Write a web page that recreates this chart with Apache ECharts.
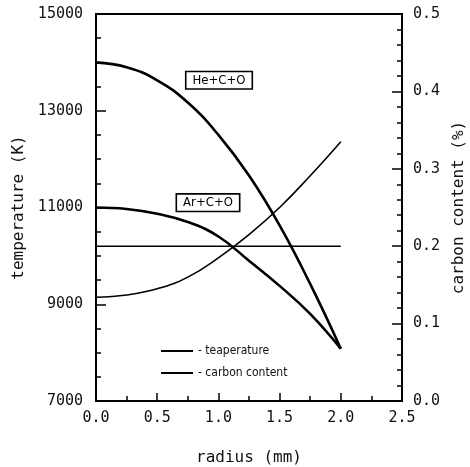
<!DOCTYPE html>
<html>
<head>
<meta charset="utf-8">
<script src="https://cdn.jsdelivr.net/npm/echarts@6/dist/echarts.min.js"></script>
<style>
  html, body { margin: 0; padding: 0; background: #fff; }
  #chart { width: 470px; height: 467px; }
</style>
</head>
<body>
<div id="chart"></div>
<script>
// Radial sample positions (mm)
const radius = [0, 0.25, 0.5, 0.75, 1.0, 1.25, 1.5, 1.75, 2.0];

// Temperature profiles (K)
const tempHe = [14000, 13900, 13630, 13170, 12500, 11660, 10630, 9420, 8080];
const tempAr = [11000, 10970, 10870, 10700, 10400, 9900, 9380, 8800, 8080];

// Carbon content profiles (%)
const carbonFlat = [0.2, 0.2, 0.2, 0.2, 0.2, 0.2, 0.2, 0.2, 0.2];
const carbonRise = [0.134, 0.137, 0.145, 0.160, 0.185, 0.215, 0.250, 0.291, 0.335];

// Curve tags: [label, radius, temperature]
const tagHe = ['He+C+O', 1.005, 13630];
const tagAr = ['Ar+C+O', 0.915, 11100];

const xTicks = { min: 0, max: 2.5, step: 0.5 };
const tTicks = { min: 7000, max: 15000, step: 2000 };
const cTicks = { min: 0, max: 0.5, step: 0.1 };

const pairs = (xs, ys) => xs.map((x, i) => [x, ys[i]]);

const tickFont = { fontFamily: 'DejaVu Sans Mono', fontSize: 15, color: '#111' };
const nameFont = { fontFamily: 'DejaVu Sans Mono', fontSize: 16, color: '#111' };
const axisLine = { show: true, lineStyle: { color: '#000', width: 2 } };

function tagPoint(tag) {
  return {
    symbol: 'rect',
    symbolSize: 0,
    data: [{ coord: [tag[1], tag[2]], value: tag[0] }],
    label: {
      show: true,
      formatter: tag[0],
      position: 'inside',
      fontFamily: 'DejaVu Sans Condensed',
      fontSize: 13,
      color: '#000',
      backgroundColor: '#fff',
      borderColor: '#000',
      borderWidth: 1.6,
      padding: [2, 6, 1, 6]
    }
  };
}

function curve(name, axis, values, width, extra) {
  return Object.assign({
    name: name, type: 'line', yAxisIndex: axis,
    smooth: 0.45,
    symbol: 'none', data: pairs(radius, values),
    lineStyle: { color: '#000', width: width }, itemStyle: { color: '#000' }
  }, extra || {});
}

const chart = echarts.init(document.getElementById('chart'), null, { renderer: 'canvas' });

chart.setOption({
  animation: false,
  backgroundColor: '#fff',
  grid: {
    left: 96, right: 68, top: 14, bottom: 66,
    outerBoundsMode: 'none',
    containLabel: false,
    show: true, borderColor: '#000', borderWidth: 2, backgroundColor: 'transparent'
  },
  legend: {
    data: ['teaperature', 'carbon content'],
    orient: 'vertical',
    left: 155,
    top: 340,
    itemWidth: 32,
    itemHeight: 14,
    itemGap: 10,
    itemStyle: { opacity: 0, borderWidth: 0 },
    formatter: '- {name}',
    textStyle: { fontFamily: 'DejaVu Sans Condensed', fontSize: 12, color: '#111' }
  },
  xAxis: {
    type: 'value',
    min: xTicks.min, max: xTicks.max, interval: xTicks.step,
    name: 'radius (mm)',
    nameLocation: 'middle',
    nameGap: 49,
    nameTextStyle: nameFont,
    axisLine: axisLine,
    axisTick: { show: true, inside: true, length: 8, lineStyle: { color: '#000', width: 1.5 } },
    minorTick: { show: true, splitNumber: 2, length: 5, lineStyle: { color: '#000', width: 1.5 } },
    splitLine: { show: false },
    axisLabel: Object.assign({ margin: 10, formatter: v => v.toFixed(1) }, tickFont)
  },
  yAxis: [
    {
      type: 'value',
      position: 'left',
      min: tTicks.min, max: tTicks.max, interval: tTicks.step,
      name: 'temperature (K)',
      nameLocation: 'middle',
      nameRotate: 90,
      nameGap: 57,
      nameTextStyle: nameFont,
      axisLine: axisLine,
      axisTick: { show: true, inside: true, length: 10, lineStyle: { color: '#000', width: 1.5 } },
      minorTick: { show: true, splitNumber: 4, length: 5, lineStyle: { color: '#000', width: 1.5 } },
      splitLine: { show: false },
      axisLabel: Object.assign({ margin: 13, formatter: v => String(v) }, tickFont)
    },
    {
      type: 'value',
      position: 'right',
      min: cTicks.min, max: cTicks.max, interval: cTicks.step,
      name: 'carbon content (%)',
      nameLocation: 'middle',
      nameRotate: 90,
      nameGap: 42,
      nameTextStyle: nameFont,
      axisLine: axisLine,
      axisTick: { show: true, inside: true, length: 10, lineStyle: { color: '#000', width: 1.5 } },
      minorTick: { show: true, splitNumber: 5, length: 5, lineStyle: { color: '#000', width: 1.5 } },
      splitLine: { show: false },
      axisLabel: Object.assign({ margin: 11, formatter: v => v.toFixed(1) }, tickFont)
    }
  ],
  series: [
    curve('teaperature', 0, tempHe, 2.6, { markPoint: tagPoint(tagHe), z: 3 }),
    curve('teaperature', 0, tempAr, 2.6, { markPoint: tagPoint(tagAr), z: 3 }),
    curve('carbon content', 1, carbonFlat, 1.6),
    curve('carbon content', 1, carbonRise, 1.6)
  ]
});
</script>
</body>
</html>
